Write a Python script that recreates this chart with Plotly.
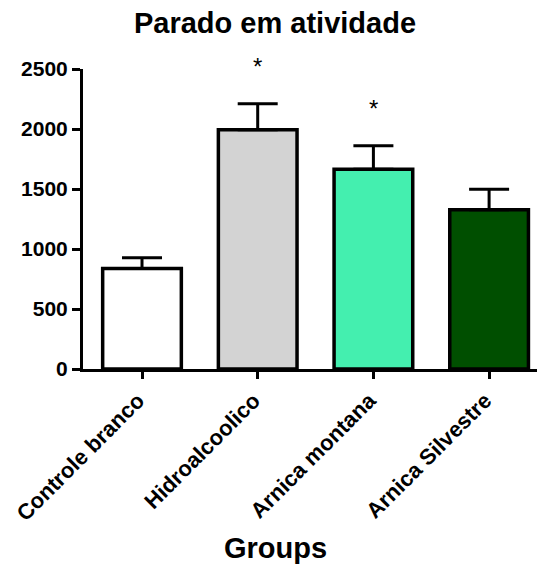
import plotly.graph_objects as go

# Group means and standard errors
groups = ["Controle branco", "Hidroalcoolico", "Arnica montana", "Arnica Silvestre"]
means = [837, 1993, 1665, 1327]
sems = [90, 217, 195, 170]
significance = ["", "*", "*", ""]
bar_colors = ["#FFFFFF", "#D3D3D3", "#44EFAF", "#004F00"]

y_ticks = [0, 500, 1000, 1500, 2000, 2500]

FONT = "Arial, 'Liberation Sans', sans-serif"

fig = go.Figure()
fig.add_trace(go.Bar(
    x=list(range(len(groups))),
    y=means,
    width=0.68,
    marker=dict(color=bar_colors, line=dict(color="black", width=3.5)),
    error_y=dict(type="data", array=sems, arrayminus=[0] * len(sems),
                 symmetric=False, color="black", thickness=3, width=20),
    showlegend=False,
))

annotations = []
# Significance markers above the error bars
for i, (m, s, mark) in enumerate(zip(means, sems, significance)):
    if mark:
        annotations.append(dict(
            x=i, y=m + s, xref="x", yref="y", text=mark, showarrow=False,
            yanchor="bottom", yshift=22,
            font=dict(family=FONT, size=24, color="black"),
        ))

# Axis title below the rotated labels
annotations.append(dict(
    x=0.423, y=-0.597, xref="paper", yref="paper", text="Groups",
    showarrow=False, xanchor="center", yanchor="middle",
    font=dict(family=FONT, size=29, color="black", weight="bold"),
))

fig.update_layout(
    width=537, height=567,
    margin=dict(l=83, r=0, t=69, b=198),
    paper_bgcolor="white", plot_bgcolor="white",
    title=dict(text="Parado em atividade", x=275 / 537, xanchor="center",
               y=1 - 23 / 567, yanchor="middle",
               font=dict(family=FONT, size=29, color="black", weight="bold")),
    annotations=annotations,
    bargap=0.32,
)

fig.update_xaxes(
    range=[-0.51, 3.414],
    tickmode="array", tickvals=list(range(len(groups))), ticktext=groups,
    tickangle=-45, ticklabelshift=-4,
    ticks="outside", ticklen=7, tickwidth=3, tickcolor="black",
    showline=True, linewidth=3, linecolor="black",
    showgrid=False, zeroline=False,
    tickfont=dict(family=FONT, size=22, color="black", weight="bold"),
)
fig.update_yaxes(
    range=[0, 2500],
    tickmode="array", tickvals=y_ticks,
    ticks="outside", ticklen=8, tickwidth=3, tickcolor="black",
    showline=True, linewidth=3, linecolor="black",
    showgrid=False, zeroline=False,
    tickfont=dict(family=FONT, size=21, color="black", weight="bold"),
)

fig.write_html("out.html")
